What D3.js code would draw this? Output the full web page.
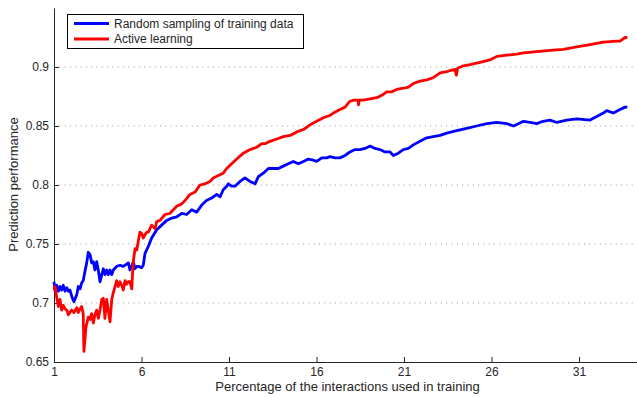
<!DOCTYPE html>
<html>
<head>
<meta charset="utf-8">
<script src="https://cdn.jsdelivr.net/npm/d3@7"></script>
<style>
	body { margin: 0; background: #fff; }
	svg text { font-family: "Liberation Sans", Arial, sans-serif; fill: #262626; }
</style>
</head>
<body>
<svg id="chart" width="637" height="397"></svg>
<script>
// values
var xTicks = [1, 6, 11, 16, 21, 26, 31];
var yTicks = [0.65, 0.7, 0.75, 0.8, 0.85, 0.9];
var gridTicks = [0.7, 0.75, 0.8, 0.85, 0.9];
var seriesNames = ['Random sampling of training data', 'Active learning'];

var randomX = [1.00,1.06,1.15,1.25,1.34,1.44,1.53,1.63,1.73,1.82,
	1.91,2.03,2.14,2.30,2.39,2.49,2.58,2.67,2.77,2.87,
	2.96,3.06,3.15,3.25,3.34,3.44,3.53,3.63,3.73,3.82,
	3.91,4.01,4.10,4.20,4.30,4.39,4.58,4.77,4.96,5.25,
	5.34,5.44,5.53,5.63,5.73,5.82,6.01,6.10,6.20,6.39,
	6.58,6.87,7.15,7.44,7.73,8.01,8.30,8.58,8.87,9.15,
	9.44,9.73,10.01,10.30,10.49,10.67,10.87,10.96,11.15,11.34,
	11.63,11.91,12.20,12.49,12.67,12.96,13.25,13.53,13.82,14.10,
	14.39,14.67,14.96,15.25,15.53,15.82,16.01,16.30,16.58,16.77,
	17.06,17.34,17.63,17.91,18.20,18.49,18.77,19.06,19.34,19.63,
	19.91,20.20,20.39,20.67,20.96,21.25,21.53,21.91,22.30,22.67,
	23.06,23.44,24.01,24.58,25.15,25.73,26.30,26.87,27.25,27.53,
	27.82,28.20,28.58,28.94,29.34,29.73,30.30,30.87,31.63,32.01,
	32.39,32.58,32.96,33.34,33.63,33.76];
var randomY = [0.718,0.710,0.715,0.710,0.714,0.711,0.715,0.710,0.713,0.710,
	0.711,0.705,0.701,0.707,0.714,0.712,0.717,0.719,0.727,0.734,
	0.743,0.741,0.734,0.735,0.728,0.735,0.728,0.718,0.724,0.729,
	0.724,0.728,0.724,0.728,0.724,0.728,0.731,0.732,0.731,0.734,
	0.728,0.731,0.735,0.729,0.731,0.731,0.730,0.732,0.742,0.748,
	0.755,0.762,0.766,0.770,0.772,0.773,0.776,0.775,0.779,0.777,
	0.783,0.787,0.789,0.792,0.790,0.796,0.799,0.801,0.799,0.799,
	0.803,0.806,0.803,0.801,0.807,0.810,0.814,0.814,0.814,0.816,
	0.818,0.820,0.818,0.820,0.822,0.821,0.820,0.823,0.823,0.824,
	0.823,0.823,0.825,0.828,0.830,0.830,0.831,0.833,0.831,0.830,
	0.828,0.828,0.825,0.827,0.830,0.831,0.834,0.837,0.840,0.841,
	0.842,0.844,0.846,0.848,0.850,0.852,0.853,0.852,0.850,0.852,
	0.854,0.853,0.852,0.854,0.855,0.853,0.855,0.856,0.855,0.858,
	0.861,0.863,0.861,0.864,0.866,0.866];

var activeX = [1.00,1.06,1.15,1.25,1.34,1.44,1.53,1.63,1.73,1.82,
	1.91,2.01,2.14,2.30,2.39,2.49,2.58,2.67,2.71,2.83,
	2.96,3.06,3.15,3.25,3.34,3.44,3.53,3.63,3.73,3.82,
	3.91,4.01,4.10,4.20,4.30,4.39,4.49,4.58,4.67,4.77,
	4.87,4.96,5.06,5.15,5.25,5.34,5.44,5.53,5.63,5.73,
	5.82,5.91,6.01,6.10,6.20,6.30,6.39,6.58,6.77,6.87,
	7.06,7.34,7.63,7.82,8.01,8.30,8.49,8.77,9.06,9.34,
	9.63,9.91,10.10,10.39,10.67,10.87,11.15,11.44,11.82,12.20,
	12.58,12.87,13.06,13.34,13.73,14.10,14.49,14.87,15.25,15.63,
	16.01,16.39,16.77,16.96,17.34,17.63,17.91,18.14,18.37,18.40,
	18.44,18.67,19.06,19.44,19.73,20.01,20.30,20.58,20.96,21.25,
	21.53,21.91,22.30,22.67,23.06,23.44,23.63,23.91,23.99,24.06,
	24.39,24.77,25.34,25.91,26.30,26.87,27.44,27.82,28.58,29.34,
	30.10,30.87,31.63,32.39,33.15,33.34,33.63,33.76];
var activeY = [0.711,0.714,0.705,0.697,0.703,0.694,0.698,0.695,0.694,0.690,
	0.692,0.694,0.692,0.696,0.692,0.695,0.697,0.691,0.659,0.680,
	0.688,0.686,0.691,0.683,0.690,0.694,0.687,0.694,0.703,0.704,
	0.687,0.703,0.694,0.684,0.703,0.709,0.714,0.719,0.714,0.718,
	0.715,0.711,0.719,0.716,0.718,0.718,0.712,0.735,0.746,0.745,
	0.753,0.760,0.759,0.755,0.758,0.760,0.760,0.766,0.763,0.769,
	0.770,0.775,0.776,0.779,0.782,0.784,0.787,0.792,0.794,0.800,
	0.801,0.803,0.806,0.808,0.810,0.814,0.818,0.822,0.827,0.830,
	0.832,0.835,0.835,0.837,0.839,0.841,0.842,0.845,0.847,0.851,
	0.854,0.857,0.859,0.861,0.864,0.866,0.871,0.872,0.872,0.868,
	0.872,0.872,0.873,0.874,0.876,0.879,0.879,0.881,0.882,0.883,
	0.886,0.888,0.889,0.891,0.895,0.896,0.897,0.898,0.893,0.899,
	0.901,0.902,0.904,0.906,0.909,0.910,0.911,0.912,0.913,0.914,
	0.915,0.917,0.919,0.921,0.922,0.922,0.925,0.925];

var colors = ['#0000ff', '#ff0000'];

var svg = d3.select('#chart');
var plotLeft = 54, plotRight = 641, plotTop = 8, plotBottom = 362;

var x = d3.scaleLinear().domain([1, 34.54]).range([plotLeft, plotRight]);
var y = d3.scaleLinear().domain([0.65, 0.95]).range([plotBottom, plotTop]);

// dotted grid
svg.append('g').selectAll('line').data(gridTicks).enter().append('line')
	.attr('x1', plotLeft).attr('x2', plotRight)
	.attr('y1', function(d){ return y(d); }).attr('y2', function(d){ return y(d); })
	.attr('stroke', '#9a9a9a').attr('stroke-width', 1)
	.attr('stroke-dasharray', '1,4.3');

var xAxis = d3.axisBottom(x).tickValues(xTicks).tickSizeInner(-5).tickSizeOuter(0).tickPadding(5)
	.tickFormat(d3.format('d'));
var yAxis = d3.axisLeft(y).tickValues(yTicks).tickSizeInner(-5).tickSizeOuter(0).tickPadding(5)
	.tickFormat(function(d){ return d3.format('.2f')(d).replace(/0$/, ''); });

var gx = svg.append('g').attr('transform', 'translate(0,' + plotBottom + ')').call(xAxis);
var gy = svg.append('g').attr('transform', 'translate(' + plotLeft + ',0)').call(yAxis);
[gx, gy].forEach(function(g){
	g.selectAll('text').style('font-size', '12px').attr('fill', '#262626');
	g.selectAll('line').attr('stroke', '#262626');
	g.select('.domain').attr('stroke', '#262626');
});

// lines
var line = d3.line()
	.x(function(d){ return x(d[0]); })
	.y(function(d){ return y(d[1]); });

var series = [d3.zip(randomX, randomY), d3.zip(activeX, activeY)];
series.forEach(function(s, i){
	svg.append('path').datum(s)
		.attr('d', line)
		.attr('fill', 'none')
		.attr('stroke', colors[i])
		.attr('stroke-width', 2.8)
		.attr('stroke-linejoin', 'round');
});

// axis labels
svg.append('text').attr('x', 347.5).attr('y', 390.5)
	.attr('text-anchor', 'middle').style('font-size', '13px')
	.text('Percentage of the interactions used in training');
svg.append('text').attr('transform', 'translate(17.5,184.5) rotate(-90)')
	.attr('text-anchor', 'middle').style('font-size', '13px')
	.text('Prediction performance');

// legend
var legend = svg.append('g');
legend.append('rect').attr('x', 67.5).attr('y', 14.5).attr('width', 236).attr('height', 34)
	.attr('fill', '#fff').attr('stroke', '#000').attr('stroke-width', 1);
seriesNames.forEach(function(name, i){
	var ly = 23.5 + i * 15.5;
	legend.append('line').attr('x1', 74).attr('x2', 109).attr('y1', ly).attr('y2', ly)
		.attr('stroke', colors[i]).attr('stroke-width', 2.8);
	legend.append('text').attr('x', 114).attr('y', ly).attr('dy', '0.35em')
		.style('font-size', '12px').text(name);
});
</script>
</body>
</html>
